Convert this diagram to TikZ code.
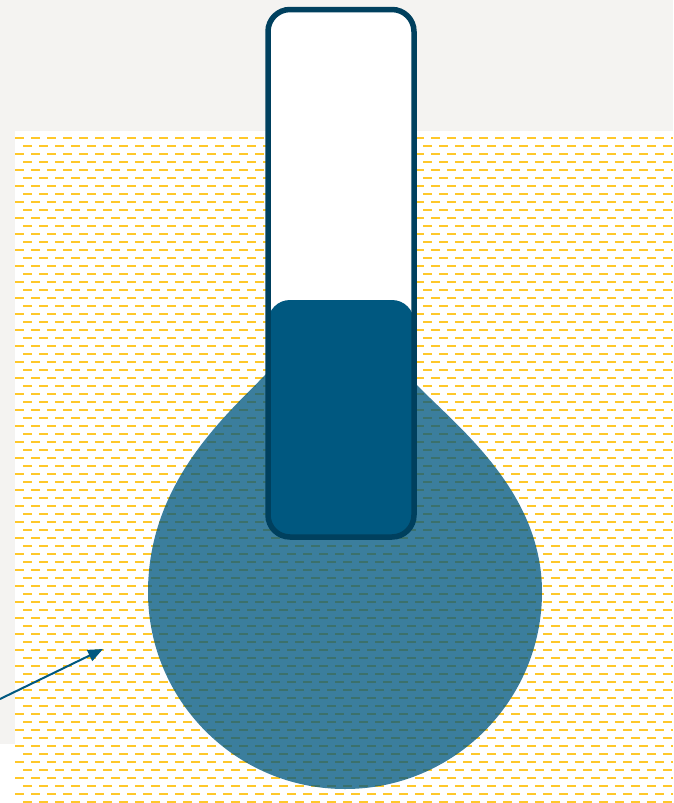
\documentclass[tikz,border=0pt]{standalone}
\usetikzlibrary{arrows.meta}
\definecolor{paper}{HTML}{F4F3F1}
\definecolor{hatch}{HTML}{FFC82A}
\definecolor{mercury}{HTML}{005880}
\definecolor{glass}{HTML}{00405E}
\tikzset{
  hatchrow/.style={hatch, line width=2.7pt, dash pattern=on 9pt off 7pt},
  bulbfill/.style={fill=mercury, fill opacity=0.77},
  tubeline/.style={draw=glass, line width=5.5pt, rounded corners=22pt},
  pointer/.style={mercury, line width=2pt, -{Triangle[length=15pt,width=12pt]}}
}
\begin{document}
\begin{tikzpicture}[x=1pt,y=-1pt]
  \useasboundingbox (0,0) rectangle (673,803);
  % backdrop
  \fill[paper] (0,0) rectangle (673,803);
  \fill[white] (15,131) rectangle (673,803);
  \fill[white] (0,744) rectangle (15,803);
  % dashed fluid texture
  \foreach \k in {0,...,41} {
    \draw[hatchrow] (15,138+16*\k) -- (673,138+16*\k);
    \draw[hatchrow] (23,146+16*\k) -- (673,146+16*\k);
  }
  % bulb
  \path[bulbfill] (268,372) .. controls (230,412) and (148,480) .. (148,592)
    arc[start angle=180, end angle=0, radius=197]
    .. controls (542,490) and (455,425) .. (416,384) -- (414,372) -- cycle;
  % tube
  \fill[white, rounded corners=22pt] (268,9.5) rectangle (414,537);
  \fill[mercury, rounded corners=22pt] (268,300) rectangle (414,537);
  \draw[tubeline] (268,9.5) rectangle (414,537);
  % pointer
  \coordinate (src) at (0,699);
  \coordinate (tip) at (103,649);
  \draw[pointer] (src) -- (tip);
\end{tikzpicture}
\end{document}
